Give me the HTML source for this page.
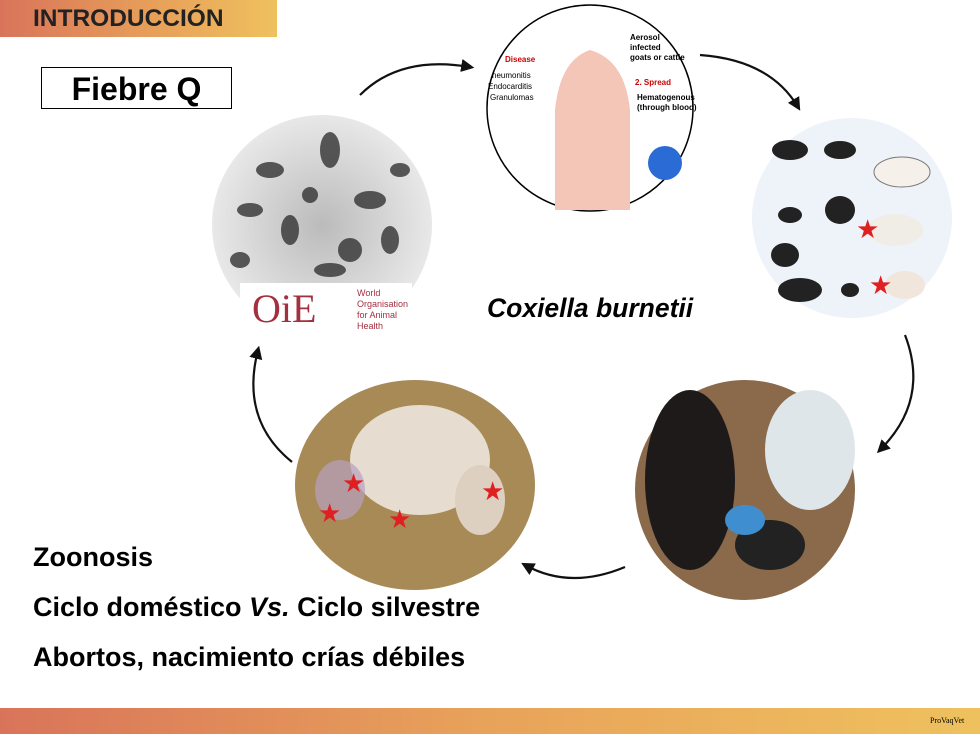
<!DOCTYPE html>
<html><head><meta charset="utf-8"><style>
body{margin:0;width:980px;height:734px;position:relative;overflow:hidden;background:#fff;font-family:"Liberation Sans",sans-serif}
.a{position:absolute}
</style></head><body>
<div class="a" style="left:0;top:0;width:277px;height:37px;background:linear-gradient(90deg,#d9745a,#e8a35a 60%,#efc15e)"></div>
<div class="a" style="left:33px;top:5px;font-size:24.5px;font-weight:bold;color:#222">INTRODUCCIÓN</div>
<div class="a" style="left:41px;top:67px;width:189px;height:40px;border:1.5px solid #000;font-size:32px;font-weight:bold;text-align:center;line-height:42px">Fiebre Q</div>
<svg class="a" style="left:0;top:0" width="980" height="734">
<defs>
<radialGradient id="m" cx="50%" cy="50%" r="50%"><stop offset="0" stop-color="#bbb"/><stop offset="1" stop-color="#e8e8e8"/></radialGradient>
<marker id="ar" markerWidth="6" markerHeight="6" refX="4" refY="3" orient="auto"><path d="M0,0L6,3L0,6z" fill="#111"/></marker>
</defs>
<circle cx="322" cy="225" r="110" fill="url(#m)"/>
<g fill="#333" opacity=".8">
<ellipse cx="270" cy="170" rx="14" ry="8"/><ellipse cx="330" cy="150" rx="10" ry="18"/><ellipse cx="370" cy="200" rx="16" ry="9"/><ellipse cx="290" cy="230" rx="9" ry="15"/><ellipse cx="250" cy="210" rx="13" ry="7"/><ellipse cx="350" cy="250" rx="12" ry="12"/><ellipse cx="400" cy="170" rx="10" ry="7"/><ellipse cx="310" cy="195" rx="8" ry="8"/><ellipse cx="390" cy="240" rx="9" ry="14"/><ellipse cx="240" cy="260" rx="10" ry="8"/><ellipse cx="330" cy="270" rx="16" ry="7"/>
</g>
<rect x="240" y="283" width="172" height="52" fill="#fff"/>
<text x="252" y="322" font-family="Liberation Serif" font-size="40" fill="#a33040">OiE</text>
<text x="357" y="296" font-size="9" fill="#a33040">World</text><text x="357" y="307" font-size="9" fill="#a33040">Organisation</text><text x="357" y="318" font-size="9" fill="#a33040">for Animal</text><text x="357" y="329" font-size="9" fill="#a33040">Health</text>
<circle cx="590" cy="108" r="103" fill="#fff" stroke="#000" stroke-width="1.5"/>
<path d="M555,210 L555,110 Q560,60 590,50 Q625,60 630,110 L630,210z" fill="#f3c6b8"/>
<circle cx="665" cy="163" r="17" fill="#2a6bd6"/>
<text x="505" y="62" font-size="8" fill="#c00" font-weight="bold">Disease</text>
<text x="492" y="78" font-size="8">neumonitis</text><text x="488" y="89" font-size="8">Endocarditis</text><text x="490" y="100" font-size="8">Granulomas</text>
<text x="630" y="40" font-size="8" font-weight="bold">Aerosol</text><text x="630" y="50" font-size="8" font-weight="bold">infected</text><text x="630" y="60" font-size="8" font-weight="bold">goats or cattle</text>
<text x="635" y="85" font-size="8" fill="#c00" font-weight="bold">2. Spread</text><text x="637" y="100" font-size="8" font-weight="bold">Hematogenous</text><text x="637" y="110" font-size="8" font-weight="bold">(through blood)</text>
<circle cx="852" cy="218" r="100" fill="#eef3fa"/>
<g fill="#222"><ellipse cx="790" cy="150" rx="18" ry="10"/><ellipse cx="840" cy="150" rx="16" ry="9"/><ellipse cx="840" cy="210" rx="15" ry="14"/><ellipse cx="785" cy="255" rx="14" ry="12"/><ellipse cx="800" cy="290" rx="22" ry="12"/><ellipse cx="790" cy="215" rx="12" ry="8"/><ellipse cx="850" cy="290" rx="9" ry="7"/></g>
<ellipse cx="902" cy="172" rx="28" ry="15" fill="#f5f0ea" stroke="#777"/>
<ellipse cx="895" cy="230" rx="28" ry="16" fill="#f0ede6"/>
<ellipse cx="905" cy="285" rx="20" ry="14" fill="#f0e6dc"/>
<text x="856" y="238" font-size="26" fill="#e02020">★</text><text x="869" y="294" font-size="26" fill="#e02020">★</text>
<circle cx="745" cy="490" r="110" fill="#8a6a4a"/>
<ellipse cx="690" cy="480" rx="45" ry="90" fill="#1e1a1a"/>
<ellipse cx="810" cy="450" rx="45" ry="60" fill="#dfe6ea"/>
<ellipse cx="770" cy="545" rx="35" ry="25" fill="#222"/>
<ellipse cx="745" cy="520" rx="20" ry="15" fill="#3f8fd0"/>
<ellipse cx="415" cy="485" rx="120" ry="105" fill="#a88a56"/>
<ellipse cx="420" cy="460" rx="70" ry="55" fill="#e6ddd0"/>
<ellipse cx="480" cy="500" rx="25" ry="35" fill="#ddd0c0"/>
<ellipse cx="340" cy="490" rx="25" ry="30" fill="#b8a0c0" opacity=".7"/>
<g font-size="26" fill="#e02020"><text x="342" y="492">★</text><text x="318" y="522">★</text><text x="388" y="528">★</text><text x="481" y="500">★</text></g>
<g fill="none" stroke="#111" stroke-width="2.2">
<path d="M360,95 Q400,55 470,67" marker-end="url(#ar)"/>
<path d="M700,55 Q770,60 798,107" marker-end="url(#ar)"/>
<path d="M905,335 Q930,400 880,450" marker-end="url(#ar)"/>
<path d="M625,567 Q570,590 525,565" marker-end="url(#ar)"/>
<path d="M292,462 Q240,420 258,350" marker-end="url(#ar)"/>
</g>
</svg>
<div class="a" style="left:487px;top:293px;font-size:26.5px;font-weight:bold;font-style:italic">Coxiella burnetii</div>
<div class="a" style="left:33px;top:542px;font-size:27px;font-weight:bold">Zoonosis</div>
<div class="a" style="left:33px;top:592px;font-size:27px;font-weight:bold">Ciclo doméstico <i>Vs.</i> Ciclo silvestre</div>
<div class="a" style="left:33px;top:642px;font-size:27px;font-weight:bold">Abortos, nacimiento crías débiles</div>
<div class="a" style="left:0;top:708px;width:980px;height:26px;background:linear-gradient(90deg,#d9745a,#e8a35a 50%,#efc15e)"></div>
<div class="a" style="left:930px;top:716px;font-size:8px;font-family:'Liberation Serif'">ProVaqVet</div>
</body></html>
